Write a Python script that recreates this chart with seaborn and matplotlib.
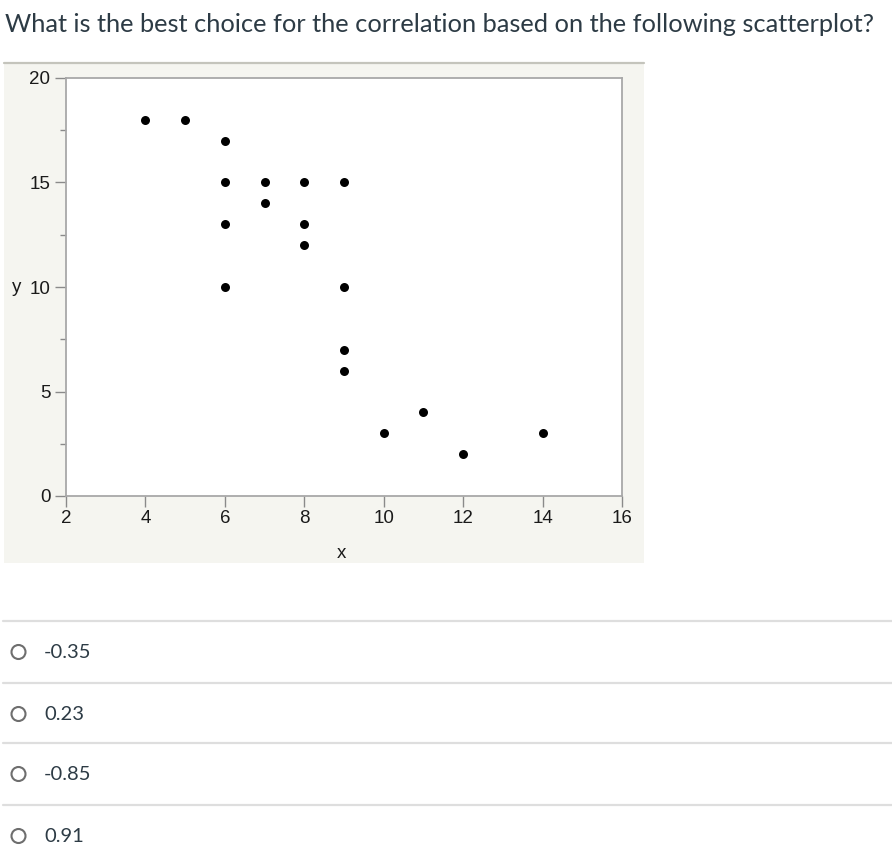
import numpy as np
import pandas as pd
import matplotlib
matplotlib.use("Agg")
import matplotlib.pyplot as plt
import seaborn as sns
from matplotlib.patches import Rectangle, Circle

# data read from the scatterplot
x_vals = [4, 5, 6, 6, 6, 6, 7, 7, 8, 8, 8, 9, 9, 9, 9, 10, 11, 12, 14]
y_vals = [18, 18, 17, 15, 13, 10, 15, 14, 15, 13, 12, 15, 10, 7, 6, 3, 4, 2, 3]
x_ticks = [2, 4, 6, 8, 10, 12, 14, 16]
y_ticks = [0, 5, 10, 15, 20]
y_minor = [2.5, 7.5, 12.5, 17.5]
question = "What is the best choice for the correlation based on the following scatterplot?"
choices = ["-0.35", "0.23", "-0.85", "0.91"]

df = pd.DataFrame({"x": x_vals, "y": y_vals})

sns.set_theme(style="white")
plt.rcParams["font.family"] = ["Liberation Sans", "DejaVu Sans"]

W, H = 892, 864
fig = plt.figure(figsize=(W / 100, H / 100), dpi=100)
fig.patch.set_facecolor("white")

# background axes in pixel coords for the page elements
bg = fig.add_axes([0, 0, 1, 1], zorder=0)
bg.set_xlim(0, W)
bg.set_ylim(H, 0)
bg.axis("off")

text_color = "#2d3b45"
bg.text(5, 25, question, fontsize=18.3, family="Lato", color=text_color,
        ha="left", va="center")

# light grey JMP panel
bg.add_patch(Rectangle((4, 62), 640, 501, facecolor="#f5f5f0", edgecolor="none"))
bg.plot([4, 644], [63, 63], color="#c4c4bc", lw=1.6)

# answer list
sep_y = [621, 683, 743, 805]
for i, c in enumerate(choices):
    bg.plot([3, 892], [sep_y[i], sep_y[i]], color="#dedede", lw=1.6)
    cy = sep_y[i] + 31
    bg.add_patch(Circle((18.5, cy), 7.0, facecolor="white", edgecolor="#6e6e6e", lw=1.5))
    bg.text(44, cy, c, fontsize=14.5, family="Lato", color=text_color,
            ha="left", va="center")

# the scatterplot itself
ax = fig.add_axes([66 / W, (H - 496) / H, 556 / W, 418 / H], zorder=1)
ax.set_facecolor("white")
sns.scatterplot(data=df, x="x", y="y", ax=ax, color="black", s=42,
                edgecolor="black", linewidth=0, legend=False)
ax.set_xlim(2, 16)
ax.set_ylim(0, 20)
ax.set_xticks(x_ticks)
ax.set_yticks(y_ticks)
ax.set_yticks(y_minor, minor=True)
for s in ax.spines.values():
    s.set_color("#a8a8a8")
    s.set_linewidth(1.3)
ax.tick_params(axis="both", which="major", length=7.8, width=1, color="#8a8a8a",
               labelsize=13.5, labelcolor="#1a1a1a", direction="out")
ax.tick_params(axis="y", which="major", pad=3.4, left=True)
ax.tick_params(axis="x", which="major", pad=2, bottom=True)
ax.tick_params(axis="y", which="minor", length=4.3, width=1, color="#8a8a8a", left=True)
ax.set_xlabel("x", fontsize=13.5, color="#1a1a1a")
ax.set_ylabel("y", fontsize=13.5, color="#1a1a1a", rotation=0, ha="center", va="center")
ax.xaxis.set_label_coords(0.495, -0.117)
ax.yaxis.set_label_coords(-0.088, 0.5)

fig.savefig("out.png", dpi=100)
